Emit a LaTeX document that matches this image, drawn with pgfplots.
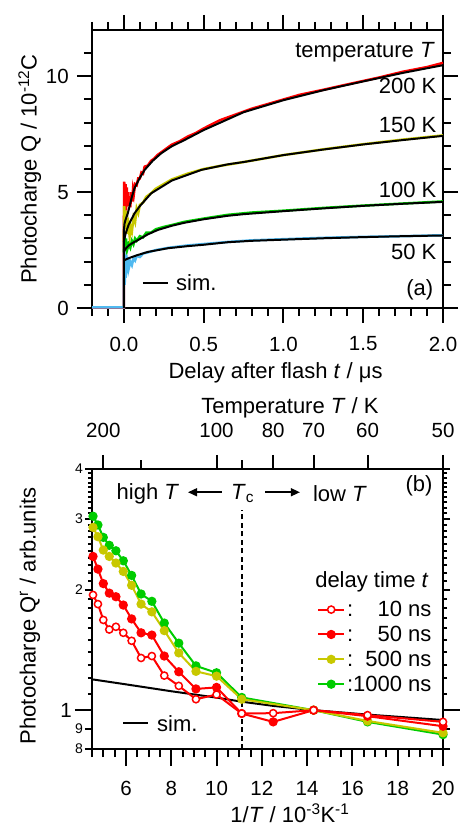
\documentclass[border=0pt]{standalone}
\usepackage{pgfplots}
\pgfplotsset{compat=1.18}
\usepackage{fontspec}
\setmainfont{Liberation Sans}
\usetikzlibrary{arrows.meta}
\definecolor{cred}{RGB}{255,0,0}
\definecolor{cyel}{RGB}{200,200,0}
\definecolor{cgrn}{RGB}{0,204,0}
\definecolor{cblu}{RGB}{80,185,240}
\newcommand{\fA}{\fontsize{22}{26}\selectfont}
\newcommand{\fT}{\fontsize{20.5}{24}\selectfont}
\newcommand{\fS}{\fontsize{14}{16}\selectfont}
\pgfplotsset{
  tk/.style={black, line width=2pt, forget plot, mark=none},
  mystyle/.style={
    scale only axis, anchor=south west, width=351pt,
    axis line style={line width=2pt},
    tick style={draw=black, line width=2pt},
    tick align=outside,
    tick label style={font=\fT},
    label style={font=\fA},
  }
}
\begin{document}
\begin{tikzpicture}
\useasboundingbox (0,0) rectangle (459pt,827pt);
% ---------------- panel (a)
\begin{axis}[mystyle,
  at={(92pt,519pt)}, height=278pt,
  xmin=-0.2, xmax=2.0, ymin=0, ymax=12,
  major tick length=15pt, minor tick length=8pt,
  xtick={0,0.5,1,1.5,2}, xticklabels={0.0,0.5,1.0,1.5,2.0},
  minor xtick={-0.2,-0.1,0.1,0.2,0.3,0.4,0.6,0.7,0.8,0.9,1.1,1.2,1.3,1.4,1.6,1.7,1.8,1.9},
  ytick={0,5,10}, yticklabels={0,5,10},
  minor ytick={1,2,3,4,6,7,8,9,11},
  xticklabel style={anchor=center, yshift=-21pt},
  yticklabel style={anchor=east, inner sep=0pt, xshift=-8pt},
  xlabel={Delay after flash \textit{t} / μs},
  xlabel style={at={(axis description cs:0.523,0)}, anchor=center, yshift=-65pt},
  ylabel={Photocharge Q / 10\textsuperscript{-12}C},
  ylabel style={at={(axis description cs:-0.177,0.5)}, anchor=center},
  clip=false,
]
% tick marks drawn as short plots (15pt = 0.647 y / 0.094 x; 8pt = 0.345 y / 0.05 x)
\pgfplotsinvokeforeach{0,0.5,1,1.5,2}{
  \addplot[tk] coordinates {(#1,-0.647) (#1,0)};
  \addplot[tk] coordinates {(#1,12) (#1,12.647)};
}
\pgfplotsinvokeforeach{-0.2,-0.1,0.1,0.2,0.3,0.4,0.6,0.7,0.8,0.9,1.1,1.2,1.3,1.4,1.6,1.7,1.8,1.9}{
  \addplot[tk] coordinates {(#1,-0.345) (#1,0)};
  \addplot[tk] coordinates {(#1,12) (#1,12.345)};
}
\pgfplotsinvokeforeach{0,5,10}{
  \addplot[tk] coordinates {(-0.294,#1) (-0.2,#1)};
  \addplot[tk] coordinates {(2,#1) (2.094,#1)};
}
\pgfplotsinvokeforeach{1,2,3,4,6,7,8,9,11}{
  \addplot[tk] coordinates {(-0.25,#1) (-0.2,#1)};
  \addplot[tk] coordinates {(2,#1) (2.05,#1)};
}
% data 200 K
\addplot[cred, line width=2.5pt] coordinates {
(-0.2,0.02)(0,0.02)(0,3.4)(0.002,5.45)(0.006,4.3)(0.01,5.35)(0.014,4.2)(0.018,5.2)(0.022,4.5)(0.026,5.0)(0.03,4.4)(0.035,4.8)(0.04,4.35)(0.046,5.0)(0.052,4.6)(0.057,5.1)(0.062,4.9)(0.07,5.35)(0.08,5.3)(0.09,5.6)(0.1,5.6)(0.11,5.85)(0.12,5.8)(0.13,6.1)(0.15,6.15)(0.17,6.35)(0.19,6.45)(0.21,6.6)(0.24,6.75)(0.27,6.9)(0.3,7.05)(0.35,7.2)(0.4,7.4)(0.45,7.55)(0.5,7.75)(0.6,8.1)(0.7,8.35)(0.8,8.6)(0.9,8.8)(1.0,9.0)(1.1,9.2)(1.25,9.42)(1.4,9.65)(1.5,9.8)(1.6,9.95)(1.75,10.2)(1.9,10.4)(2.0,10.58)};
% data 150 K
\addplot[cyel, line width=2.5pt] coordinates {
(0,2.9)(0.002,4.4)(0.006,3.6)(0.01,4.2)(0.015,3.4)(0.02,3.9)(0.025,3.2)(0.03,3.5)(0.036,3.1)(0.042,3.5)(0.05,3.3)(0.06,3.9)(0.07,3.7)(0.08,4.3)(0.09,4.1)(0.1,4.45)(0.12,4.55)(0.14,4.8)(0.17,4.95)(0.2,5.15)(0.25,5.35)(0.3,5.55)(0.4,5.8)(0.5,6.0)(0.6,6.13)(0.75,6.3)(1.0,6.6)(1.25,6.85)(1.5,7.07)(1.75,7.27)(2.0,7.45)};
% data 100 K
\addplot[cgrn, line width=2.5pt] coordinates {
(0,2.4)(0.003,3.1)(0.008,2.6)(0.013,3.0)(0.02,2.5)(0.03,2.75)(0.04,2.6)(0.05,2.9)(0.06,2.75)(0.07,3.0)(0.08,2.9)(0.1,3.1)(0.12,3.05)(0.14,3.25)(0.17,3.25)(0.2,3.4)(0.25,3.5)(0.3,3.58)(0.38,3.72)(0.5,3.86)(0.65,4.02)(0.8,4.12)(1.0,4.2)(1.25,4.32)(1.5,4.42)(1.75,4.51)(2.0,4.6)};
% data 50 K
\addplot[cblu, line width=2.5pt] coordinates {
(-0.2,0.03)(0,0.03)(0,0.8)(0.002,2.6)(0.005,1.0)(0.008,2.2)(0.011,1.3)(0.015,2.3)(0.02,1.5)(0.025,2.2)(0.03,1.7)(0.04,2.0)(0.05,1.85)(0.06,2.15)(0.07,2.05)(0.08,2.25)(0.1,2.2)(0.12,2.35)(0.15,2.4)(0.2,2.5)(0.28,2.6)(0.4,2.7)(0.5,2.76)(0.65,2.85)(0.8,2.92)(1.0,2.97)(1.25,3.03)(1.5,3.07)(1.75,3.1)(2.0,3.14)};
% simulations
\addplot[black, line width=2pt] coordinates {
(0,0)(0,3.37)(0.004,3.65)(0.01,3.8)(0.025,4.1)(0.05,4.8)(0.067,5.18)(0.1,5.62)(0.13,5.96)(0.18,6.35)(0.234,6.68)(0.3,6.98)(0.38,7.25)(0.5,7.68)(0.75,8.45)(1.0,8.97)(1.25,9.4)(1.5,9.78)(1.75,10.15)(2.0,10.48)};
\addplot[black, line width=2pt] coordinates {
(0,2.85)(0.005,3.05)(0.01,3.2)(0.03,3.6)(0.067,4.09)(0.1,4.4)(0.171,4.95)(0.3,5.5)(0.485,5.96)(0.65,6.2)(0.75,6.3)(1.0,6.6)(1.25,6.84)(1.5,7.06)(1.75,7.25)(2.0,7.43)};
\addplot[black, line width=2pt] coordinates {
(0,2.43)(0.01,2.55)(0.03,2.7)(0.06,2.83)(0.088,2.93)(0.15,3.18)(0.213,3.37)(0.3,3.55)(0.38,3.68)(0.5,3.83)(0.65,3.98)(0.75,4.05)(1.0,4.18)(1.25,4.3)(1.5,4.41)(1.75,4.5)(2.0,4.58)};
\addplot[black, line width=2pt] coordinates {
(0,2.05)(0.02,2.12)(0.05,2.2)(0.088,2.29)(0.15,2.42)(0.276,2.58)(0.4,2.67)(0.5,2.73)(0.652,2.84)(0.8,2.9)(1.0,2.95)(1.25,3.01)(1.5,3.06)(1.75,3.1)(2.0,3.13)};
% annotations
\node[font=\fA, anchor=east, inner sep=0pt] at (axis cs:1.95,11.03) {temperature \textit{T}};
\node[font=\fA, anchor=east, inner sep=0pt] at (axis cs:1.96,9.57) {200 K};
\node[font=\fA, anchor=east, inner sep=0pt] at (axis cs:1.96,7.89) {150 K};
\node[font=\fA, anchor=east, inner sep=0pt] at (axis cs:1.96,5.09) {100 K};
\node[font=\fA, anchor=east, inner sep=0pt] at (axis cs:1.96,2.41) {50 K};
\node[font=\fA, anchor=east, inner sep=0pt] at (axis cs:1.94,0.78) {(a)};
\draw[black, line width=2pt] (axis cs:0.119,1.08) -- (axis cs:0.276,1.08);
\node[font=\fA, anchor=west, inner sep=0pt] at (axis cs:0.326,1.08) {sim.};
\end{axis}
% ---------------- panel (b) top temperature axis (labels)
\begin{axis}[mystyle,
  at={(92pt,78pt)}, height=280pt,
  xmin=4.5, xmax=20, ymin=0, ymax=1,
  axis x line*=top, axis y line=none,
  major tick length=14pt,
  xtick={5,10,12.5,14.2857,16.6667,20},
  xticklabels={200,100,80,70,60,50},
  xticklabel style={anchor=center, yshift=25pt},
  xlabel={Temperature \textit{T} / K},
  xlabel style={at={(axis description cs:0.564,1)}, anchor=center, yshift=61pt},
]
\addplot[draw=none, forget plot] coordinates {(5,0.5)};
\end{axis}
% ---------------- panel (b)
\begin{axis}[mystyle,
  at={(92pt,78pt)}, height=280pt,
  xmin=4.5, xmax=20, ymode=log, ymin=0.8, ymax=4,
  major tick length=17pt, minor tick length=4pt,
  xtick pos=lower,
  xtick={6,8,10,12,14,16,18,20}, xticklabels={6,8,10,12,14,16,18,20},
  minor xtick={4.5,5,5.5,6.5,7,7.5,8.5,9,9.5,10.5,11,11.5,12.5,13,13.5,14.5,15,15.5,16.5,17,17.5,18.5,19,19.5},
  xticklabel style={anchor=center, yshift=-22pt},
  ytick={1}, yticklabels={1},
  yticklabel style={anchor=east, inner sep=0pt, xshift=-3pt},
  extra y ticks={0.8,0.9,2,3,4}, extra y tick labels={8,9,2,3,4},
  extra y tick style={major tick length=7pt, yticklabel style={font=\fS, xshift=1pt}},
  minor ytick={1.1,1.2,1.3,1.4,1.5,1.6,1.7,1.8,1.9,2.1,2.2,2.3,2.4,2.5,2.6,2.7,2.8,2.9,3.1,3.2,3.3,3.4,3.5,3.6,3.7,3.8,3.9},
  xlabel={1/\textit{T} / 10\textsuperscript{-3}K\textsuperscript{-1}},
  xlabel style={at={(axis description cs:0.564,0)}, anchor=center, yshift=-64pt},
  ylabel={Photocharge Q\textsuperscript{r} / arb.units},
  ylabel style={at={(axis description cs:-0.177,0.475)}, anchor=center},
  clip=false,
  legend style={draw=none, fill=none, at={(rel axis cs:0.641,0.534)}, anchor=north west,
     font=\fA, inner sep=0pt, row sep=5pt, legend cell align=left,
     nodes={inner xsep=2pt, inner ysep=1.5pt}},
  legend image code/.code={\draw[#1, mark repeat=2, mark phase=2] plot coordinates {(0pt,0pt) (13pt,0pt) (26pt,0pt)};},
  reverse legend,
  mark size=3.6pt,
]
% tick marks drawn as short plots
\pgfplotsinvokeforeach{6,8,10,12,14,16,18,20}{
  \addplot[tk] coordinates {(#1,0.7255) (#1,0.8)};
}
\pgfplotsinvokeforeach{4.5,5,5.5,6.5,7,7.5,8.5,9,9.5,10.5,11,11.5,12.5,13,13.5,14.5,15,15.5,16.5,17,17.5,18.5,19,19.5}{
  \addplot[tk] coordinates {(#1,0.764) (#1,0.8)};
}
\pgfplotsinvokeforeach{5,10,12.5,14.2857,16.6667,20}{
  \addplot[tk] coordinates {(#1,4) (#1,4.335)};
}
\pgfplotsinvokeforeach{6.6667,11.1111}{
  \addplot[tk] coordinates {(#1,4) (#1,4.212)};
}
\addplot[tk] coordinates {(3.75,1) (4.5,1)};
\addplot[tk] coordinates {(20,1) (20.66,1)};
\pgfplotsinvokeforeach{0.8,0.9,2,3,4}{
  \addplot[tk] coordinates {(4.19,#1) (4.5,#1)};
  \addplot[tk] coordinates {(20,#1) (20.31,#1)};
}
\pgfplotsinvokeforeach{1.1,1.2,1.3,1.4,1.5,1.6,1.7,1.8,1.9,2.1,2.2,2.3,2.4,2.5,2.6,2.7,2.8,2.9,3.1,3.2,3.3,3.4,3.5,3.6,3.7,3.8,3.9}{
  \addplot[tk] coordinates {(4.323,#1) (4.5,#1)};
  \addplot[tk] coordinates {(20,#1) (20.177,#1)};
}
\addplot[black, line width=2pt, forget plot] coordinates {
(4.55,1.193)(6,1.16)(8,1.115)(10,1.075)(11.111,1.05)(12.5,1.025)(14.286,1.0)(16.667,0.975)(20,0.945)};
\addplot[black, line width=1.8pt, dash pattern=on 5pt off 3.5pt, forget plot] coordinates {(11.111,0.8)(11.111,3.16)};
% 1000 ns
\addplot[cgrn, line width=2pt, mark=*, mark options={solid, fill=cgrn, draw=cgrn}] coordinates {
(4.545,3.05)(4.762,2.90)(5,2.70)(5.263,2.58)(5.556,2.50)(5.882,2.36)(6.25,2.17)(6.667,1.95)(7.143,1.87)(7.692,1.65)(8.333,1.47)(9.091,1.29)(10,1.24)(11.111,1.076)(14.286,1.0)(16.667,0.935)(20,0.869)};
\addlegendentry{:\makebox[3.55em][r]{1000 ns}}
% 500 ns
\addplot[cyel, line width=2pt, mark=*, mark options={solid, fill=cyel, draw=cyel}] coordinates {
(4.545,2.86)(4.762,2.71)(5,2.51)(5.263,2.42)(5.556,2.33)(5.882,2.22)(6.25,2.05)(6.667,1.84)(7.143,1.76)(7.692,1.58)(8.333,1.39)(9.091,1.25)(10,1.216)(11.111,1.065)(14.286,1.0)(16.667,0.94)(20,0.878)};
\addlegendentry{:\makebox[3.55em][r]{500 ns}}
% 50 ns
\addplot[cred, line width=2pt, mark=*, mark options={solid, fill=cred, draw=cred}] coordinates {
(4.545,2.42)(4.762,2.25)(5,2.07)(5.263,1.96)(5.556,1.92)(5.882,1.83)(6.25,1.69)(6.667,1.56)(7.143,1.54)(7.692,1.365)(8.333,1.247)(9.091,1.13)(10,1.14)(11.111,0.981)(12.5,0.935)(14.286,1.0)(16.667,0.966)(20,0.912)};
\addlegendentry{:\makebox[3.55em][r]{50 ns}}
% 10 ns
\addplot[cred, line width=2pt, mark=*, mark options={solid, fill=white, draw=cred, line width=1.5pt}] coordinates {
(4.545,1.94)(4.762,1.84)(5,1.68)(5.263,1.59)(5.556,1.615)(5.882,1.56)(6.25,1.49)(6.667,1.35)(7.143,1.365)(7.692,1.22)(8.333,1.15)(9.091,1.065)(10,1.094)(11.111,0.981)(12.5,0.983)(14.286,1.0)(16.667,0.972)(20,0.935)};
\addlegendentry{:\makebox[3.55em][r]{10 ns}}
% annotations
\node[font=\fA, inner sep=0pt] at (axis cs:6.97,3.47) {high \textit{T}};
\node[font=\fA, inner sep=0pt] at (axis cs:11.15,3.47) {\textit{T}\textsubscript{c}};
\node[font=\fA, inner sep=0pt] at (axis cs:15.45,3.47) {low \textit{T}};
\draw[line width=1.5pt, -{Triangle[length=9pt,width=8pt]}] (axis cs:10.24,3.5) -- (axis cs:8.74,3.5);
\draw[line width=1.5pt, -{Triangle[length=9pt,width=8pt]}] (axis cs:12.14,3.5) -- (axis cs:13.68,3.5);
\node[font=\fA, inner sep=0pt] at (axis cs:18.94,3.63) {(b)};
\node[font=\fA, inner sep=0pt] at (axis cs:16.86,2.09) {delay time \textit{t}};
\draw[black, line width=2pt] (axis cs:5.87,0.928) -- (axis cs:6.97,0.928);
\node[font=\fA, anchor=west, inner sep=0pt] at (axis cs:7.37,0.928) {sim.};
\end{axis}
\end{tikzpicture}
\end{document}
